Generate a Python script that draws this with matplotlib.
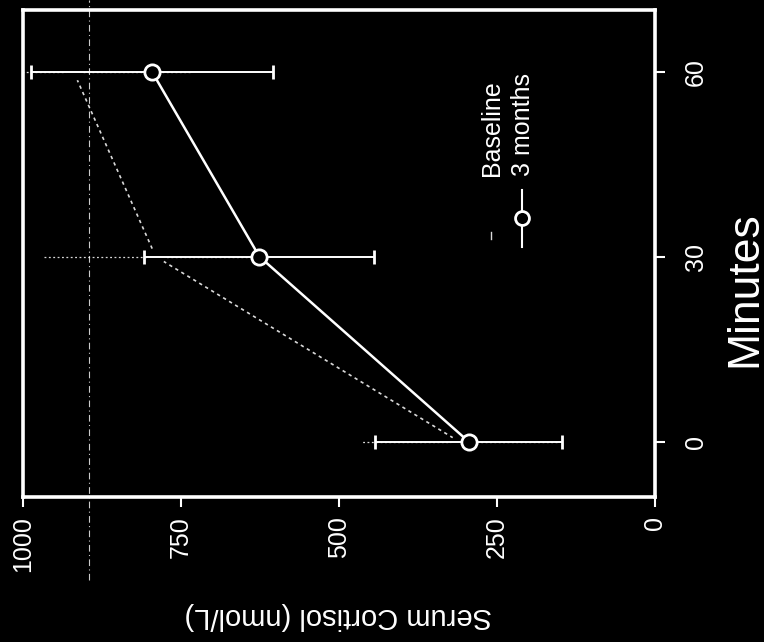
import matplotlib
matplotlib.use("Agg")
import matplotlib.pyplot as plt
from matplotlib.lines import Line2D

plt.rcParams['font.family'] = ['Liberation Sans', 'DejaVu Sans']

# sampling times (min) and serum cortisol (nmol/L), mean +/- error
minutes = [0, 30, 60]
baseline = [310, 790, 920]
baseline_err = [155, 180, 185]
three_months = [295, 626, 796]
three_months_err = [148, 182, 192]

cortisol_ticks = [0, 250, 500, 750, 1000]
minute_ticks = [0, 30, 60]

fg = 'white'
dim = '0.85'
fig = plt.figure(figsize=(7.64, 6.42), dpi=100, facecolor='black')
ax = fig.add_axes([23 / 764, 145 / 642, 632 / 764, 487 / 642], facecolor='black')

# the chart is laid out turned on its side: cortisol runs right-to-left, minutes bottom-to-top
eb = ax.errorbar(baseline, minutes, xerr=baseline_err, color=dim, lw=1.2,
                 linestyle=(0, (2, 2.2)), marker='o', ms=11, mfc='black', mec='black',
                 elinewidth=0.9, capsize=0, zorder=2)
eb[2][0].set_linestyle((0, (1.5, 2)))
ax.errorbar(three_months, minutes, xerr=three_months_err, color=fg, lw=1.8,
            marker='o', ms=11, mfc='black', mec=fg, mew=2.0,
            elinewidth=1.4, capsize=5, capthick=1.4, zorder=3)

ax.set_xlim(1000, 0)
ax.set_ylim(-9, 70)
ax.set_xticks(cortisol_ticks)
ax.set_yticks(minute_ticks)
ax.xaxis.set_ticks_position('bottom')
ax.yaxis.set_ticks_position('right')
ax.tick_params(axis='x', colors=fg, labelsize=18, length=7, width=1.5, pad=7, labelrotation=90)
ax.tick_params(axis='y', colors=fg, labelsize=18, length=7, width=1.5, pad=14, labelrotation=90)
for lab in ax.get_yticklabels():
    lab.set_verticalalignment('center')
for sp in ax.spines.values():
    sp.set_color(fg)
    sp.set_linewidth(2.6)

fig.text(338 / 764, (642 - 616) / 642, 'Serum Cortisol (nmol/L)', rotation=180,
         color=fg, fontsize=21, ha='center', va='center')
fig.text(745 / 764, (642 - 289) / 642, 'Minutes', rotation=90,
         color=fg, fontsize=32, ha='center', va='center')

# key, drawn by hand so the entries can be turned like the rest
ax.add_line(Line2D([0.741, 0.741], [0.53, 0.545], transform=ax.transAxes, color=dim, lw=1.0))
ax.add_line(Line2D([0.790, 0.790], [0.513, 0.630], transform=ax.transAxes, color=fg, lw=1.5))
ax.add_line(Line2D([0.790], [0.573], transform=ax.transAxes, marker='o', ms=10,
                   mfc='black', mec=fg, mew=2.0, linestyle='none'))
for x, label in [(0.742, 'Baseline'), (0.791, '3 months')]:
    ax.text(x, 0.660, label, transform=ax.transAxes, rotation=90,
            color=fg, fontsize=18, ha='center', va='bottom')

# faint fold line running down the sheet
fig.add_artist(Line2D([89 / 764, 89 / 764], [62 / 642, 1.0], transform=fig.transFigure,
                      color=fg, lw=0.8, alpha=0.8, linestyle=(0, (6, 3, 1, 3))))

fig.savefig('out.png', dpi=100, facecolor='black')
